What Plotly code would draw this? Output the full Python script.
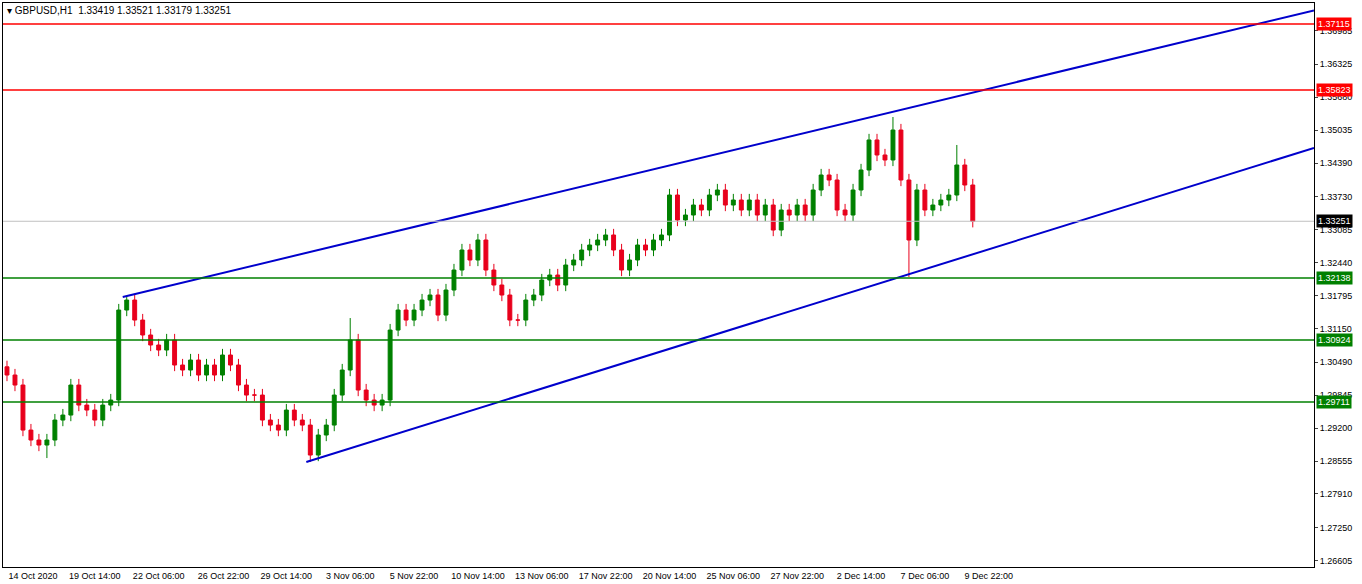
import plotly.graph_objects as go

# 8-hour candles (candle k sits at hour 8k)
closes = [
    1.30239, 1.30043, 1.29161, 1.28966, 1.28868, 1.28966, 1.29357, 1.29455, 1.30043, 1.29651,
    1.29553, 1.29357, 1.29651, 1.29749, 1.31512, 1.31708, 1.31316, 1.31023, 1.30827, 1.30729,
    1.30925, 1.30435, 1.30337, 1.30533, 1.30239, 1.30435, 1.30239, 1.30631, 1.30435, 1.30043,
    1.29847, 1.29847, 1.29357, 1.29259, 1.29161, 1.29553, 1.29357, 1.29259, 1.28672, 1.29064,
    1.29259, 1.29847, 1.30337, 1.30925, 1.29945, 1.29749, 1.29651, 1.29749, 1.31120, 1.31512,
    1.31316, 1.31512, 1.31708, 1.31806, 1.31414, 1.31904, 1.32296, 1.32688, 1.32492, 1.32884,
    1.32296, 1.32002, 1.31806, 1.31316, 1.31316, 1.31708, 1.31806, 1.32100, 1.32198, 1.32002,
    1.32394, 1.32492, 1.32688, 1.32786, 1.32884, 1.32982, 1.32688, 1.32296, 1.32492, 1.32786,
    1.32688, 1.32884, 1.32982, 1.33765, 1.33275, 1.33373, 1.33569, 1.33471, 1.33765, 1.33863,
    1.33569, 1.33667, 1.33471, 1.33667, 1.33373, 1.33569, 1.33079, 1.33471, 1.33373, 1.33569,
    1.33373, 1.33863, 1.34157, 1.34059, 1.33471, 1.33373, 1.33863, 1.34255, 1.34843, 1.34549,
    1.34451, 1.35038, 1.34059, 1.32884, 1.33863, 1.33471, 1.33569, 1.33667, 1.33765, 1.34353,
    1.33961, 1.33251,
]
first_open = 1.30400
# extremes of the spike candles (index: price)
spike_highs = {15: 1.31767, 43: 1.31355, 111: 1.35293, 119: 1.34745}
spike_lows = {5: 1.28613, 38: 1.28535, 113: 1.32159}
wick = 0.0012

h_lines_red = [1.37115, 1.35823]
h_lines_green = [1.32138, 1.30924, 1.29711]
last_price = 1.33251

# channel lines: (hour index, price)
upper_channel = ([116, 1310], [1.31767, 1.37380])
lower_channel = ([300, 1310], [1.28535, 1.34687])

y_ticks = [1.36985, 1.36325, 1.35680, 1.35035, 1.34390, 1.33730, 1.33085, 1.32440,
           1.31795, 1.31150, 1.30490, 1.29845, 1.29200, 1.28555, 1.27910, 1.27250, 1.26605]
x_tick_hours = [0, 62, 126, 191, 254, 318, 382, 446, 510, 574, 638, 702, 766, 830, 894, 958]
x_tick_text = ["14 Oct 2020", "19 Oct 14:00", "22 Oct 06:00", "26 Oct 22:00", "29 Oct 14:00",
               "3 Nov 06:00", "5 Nov 22:00", "10 Nov 14:00", "13 Nov 06:00", "17 Nov 22:00",
               "20 Nov 14:00", "25 Nov 06:00", "27 Nov 22:00", "2 Dec 14:00", "7 Dec 06:00",
               "9 Dec 22:00"]

opens = [first_open] + closes[:-1]
highs = [spike_highs.get(i, max(o, c) + wick) for i, (o, c) in enumerate(zip(opens, closes))]
lows = [spike_lows.get(i, min(o, c) - wick) for i, (o, c) in enumerate(zip(opens, closes))]
xs = [8 * i for i in range(len(closes))]

fig = go.Figure()
fig.add_trace(go.Candlestick(
    x=xs, open=opens, high=highs, low=lows, close=closes,
    increasing=dict(line=dict(color="#008000", width=1), fillcolor="#008000"),
    decreasing=dict(line=dict(color="#e8001c", width=1), fillcolor="#e8001c"),
    whiskerwidth=0, showlegend=False, hoverinfo="skip",
))

fig.add_hline(y=last_price, line=dict(color="#c0c0c0", width=1))
for p in h_lines_red:
    fig.add_hline(y=p, line=dict(color="#ff0000", width=1.5))
for p in h_lines_green:
    fig.add_hline(y=p, line=dict(color="#008000", width=1.5))

for xs_c, ys_c in (upper_channel, lower_channel):
    fig.add_trace(go.Scatter(x=xs_c, y=ys_c, mode="lines", line=dict(color="#0000cc", width=2),
                             showlegend=False, hoverinfo="skip"))

# right-side price boxes
boxes = [(p, "#ff0000", "white") for p in h_lines_red] + \
        [(p, "#008000", "white") for p in h_lines_green] + [(last_price, "black", "white")]
for p, bg, fg in boxes:
    fig.add_annotation(x=1.0, xref="paper", y=p, yref="y", text=f"{p:.5f}", showarrow=False,
                       xanchor="left", xshift=2, bgcolor=bg, font=dict(color=fg, size=9,
                       family="Liberation Sans"), borderpad=1)

fig.add_annotation(x=0, xref="paper", y=1, yref="paper", xanchor="left", yanchor="top",
                   text="▾ GBPUSD,H1  1.33419 1.33521 1.33179 1.33251", showarrow=False,
                   font=dict(size=10, color="black", family="Liberation Sans"), xshift=2, yshift=0)

fig.update_layout(
    width=1362, height=584,
    margin=dict(l=3, r=48, t=3, b=17, autoexpand=False),
    plot_bgcolor="white", paper_bgcolor="white",
    font=dict(family="Liberation Sans", size=9, color="black"),
    xaxis=dict(range=[-4, 1310], rangeslider=dict(visible=False), tickvals=[h + 26 for h in x_tick_hours],
               ticktext=x_tick_text, showgrid=False, zeroline=False, showline=True, linecolor="black",
               mirror=True, ticks="", tickfont=dict(size=9), automargin=False),
    yaxis=dict(range=[1.26479, 1.37526], side="right", tickvals=y_ticks,
               ticktext=[f"{v:.5f}" for v in y_ticks], showgrid=False, zeroline=False,
               showline=True, linecolor="black", mirror=True, ticks="outside", ticklen=3,
               tickfont=dict(size=9), automargin=False),
)

fig.write_html("out.html", config={"displayModeBar": False},
               post_script="document.body.style.margin='0';")
